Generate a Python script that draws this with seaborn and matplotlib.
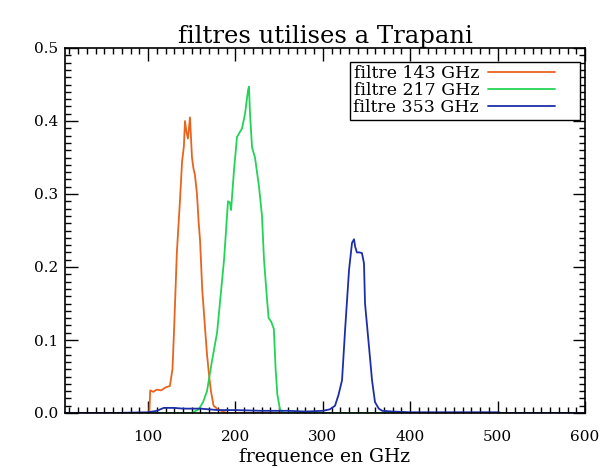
import numpy as np
import pandas as pd
import matplotlib
matplotlib.use("Agg")
import matplotlib.pyplot as plt
import seaborn as sns
from matplotlib.ticker import MultipleLocator, FormatStrFormatter
from matplotlib.lines import Line2D
from matplotlib.legend_handler import HandlerBase

# ---- data ----
labels = ["filtre 143 GHz", "filtre 217 GHz", "filtre 353 GHz"]
colors = ["#e8641e", "#22d455", "#1c2fa8"]

x143 = [20, 100, 101.5, 102.5, 106, 110, 115, 120, 125, 128, 130, 133, 136.5, 139, 141,
        142.3, 144, 145.7, 148, 150.3, 152, 153.7, 156, 158, 159.5, 162, 165, 167.5,
        170, 172, 175, 180, 190, 600]
y143 = [0, 0, 0.0, 0.031, 0.029, 0.032, 0.031, 0.035, 0.037, 0.06, 0.12, 0.22, 0.29, 0.345,
        0.365, 0.40, 0.385, 0.376, 0.405, 0.35, 0.335, 0.326, 0.30, 0.26, 0.237, 0.17, 0.12,
        0.08, 0.05, 0.03, 0.01, 0.005, 0.0, 0.0]

x217 = [60, 150, 158, 163, 167.5, 173, 179, 183, 187, 191.5, 193.8, 195, 198.4, 201.8,
        207.6, 211, 214.4, 215.5, 216.7, 219, 222.4, 227, 230.4, 232.7, 236.2, 238, 241,
        244, 246, 248, 251, 255, 600]
y217 = [0, 0, 0.005, 0.015, 0.03, 0.07, 0.11, 0.16, 0.21, 0.29, 0.288, 0.278, 0.333, 0.378,
        0.39, 0.41, 0.442, 0.447, 0.41, 0.364, 0.35, 0.31, 0.27, 0.21, 0.155, 0.13, 0.125,
        0.115, 0.06, 0.025, 0.005, 0.0, 0.0]

x353 = [5, 60, 100, 110, 118, 130, 140, 160, 180, 200, 230, 260, 280, 300, 308, 314, 318,
        322, 325.5, 330, 333.4, 335.7, 337, 339, 342, 344.8, 347.1, 348.3, 352.9, 356.3,
        359.7, 364, 368, 380, 400, 500, 505, 600]
y353 = [0.0, 0.0, 0.001, 0.003, 0.007, 0.007, 0.006, 0.006, 0.004, 0.004, 0.003, 0.003,
        0.002, 0.003, 0.005, 0.01, 0.025, 0.045, 0.114, 0.196, 0.233, 0.238, 0.228, 0.22,
        0.22, 0.219, 0.205, 0.15, 0.09, 0.045, 0.015, 0.006, 0.003, 0.002, 0.001, 0.001,
        0.0, 0.0]

xs = [x143, x217, x353]
ys = [y143, y217, y353]

frames = []
for lab, xv, yv in zip(labels, xs, ys):
    frames.append(pd.DataFrame({"freq": xv, "val": yv, "filtre": lab}))
df = pd.concat(frames, ignore_index=True)

sns.set_style("ticks")
plt.rcParams["font.family"] = ["DejaVu Serif", "DejaVu Sans"]
plt.rcParams["text.color"] = "black"
plt.rcParams["axes.labelcolor"] = "black"
plt.rcParams["xtick.color"] = "black"
plt.rcParams["ytick.color"] = "black"

fig = plt.figure(figsize=(6.06, 4.68), dpi=100)
ax = fig.add_axes([65/606, 1-413/468, 520/606, 365/468])

sns.lineplot(data=df, x="freq", y="val", hue="filtre", palette=dict(zip(labels, colors)),
             sort=False, estimator=None, linewidth=1.3, ax=ax, legend=False)

ax.set_xlim(5, 600)
ax.set_ylim(0, 0.5)
ax.xaxis.set_major_locator(MultipleLocator(100))
ax.xaxis.set_minor_locator(MultipleLocator(10))
ax.yaxis.set_major_locator(MultipleLocator(0.1))
ax.yaxis.set_minor_locator(MultipleLocator(0.01))
ax.yaxis.set_major_formatter(FormatStrFormatter("%.1f"))
ax.tick_params(which="both", direction="in", top=True, right=True, colors="black",
               labelcolor="black", labelsize=11, width=1)
ax.tick_params(which="major", length=9)
ax.tick_params(which="minor", length=4.5)
ax.tick_params(axis="x", which="major", pad=12)
ax.tick_params(axis="y", which="major", pad=5)
for s in ax.spines.values():
    s.set_color("black")
    s.set_linewidth(1.2)

ax.set_xlabel("frequence en GHz", fontsize=13.5, labelpad=3, color="black")
ax.set_ylabel("")
ax.set_title("filtres utilises a Trapani", fontsize=17.5, pad=3, color="black")


class ShortLine(HandlerBase):
    def create_artists(self, legend, orig_handle, xdescent, ydescent, width, height,
                       fontsize, trans):
        y = height / 2 - ydescent
        line = Line2D([-xdescent, -xdescent + width * 0.76], [y, y],
                      color=orig_handle.get_color(), lw=orig_handle.get_linewidth(),
                      transform=trans)
        return [line]


handles = [Line2D([0], [0], color=c, lw=1.3) for c in colors]
leg = ax.legend(handles, labels, loc="upper right", bbox_to_anchor=(0.99, 0.962),
                markerfirst=False, handlelength=5.1, fontsize=12.5, frameon=True,
                fancybox=False, borderpad=0.2, labelspacing=0.0, handletextpad=0.5,
                borderaxespad=0.0, handler_map={Line2D: ShortLine()})
for t in leg.get_texts():
    t.set_color("black")
leg.get_frame().set_edgecolor("black")
leg.get_frame().set_linewidth(1.0)
leg.get_frame().set_alpha(1)

fig.savefig("out.png", dpi=100)
